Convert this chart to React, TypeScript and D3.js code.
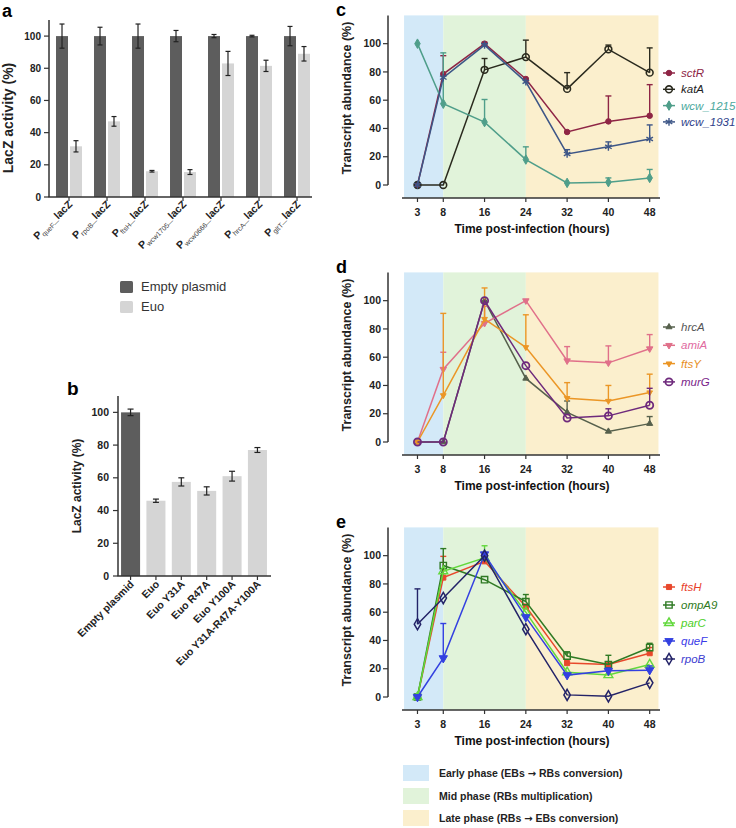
import React from 'react';
import * as d3 from 'd3';

// ---------- Panel a ----------
const promoters = ['queF', 'rpoB', 'ftsH', 'wcw1705', 'wcw0666', 'hrcA', 'gltT'];
const aSeries = ['Empty plasmid', 'Euo'];
const emptyPlasmidA = [100, 100, 100, 100, 100, 100, 100];
const emptyPlasmidAErr = [7.5, 5.5, 7.5, 3.5, 1, 0.5, 6];
const euoA = [31.5, 47, 16, 15.5, 83, 81.5, 89];
const euoAErr = [3.5, 3, 0.5, 1.5, 7.5, 3.5, 4.5];
const barTicks = [0, 20, 40, 60, 80, 100];

// ---------- Panel b ----------
const bConstructs = ['Empty plasmid', 'Euo', 'Euo Y31A', 'Euo R47A', 'Euo Y100A', 'Euo Y31A-R47A-Y100A'];
const bValues = [100, 46, 57.5, 52, 61, 77];
const bErr = [2, 1, 2.5, 2.5, 3, 1.5];

// ---------- Line panels ----------
const hours = [3, 8, 16, 24, 32, 40, 48];
const lineTicks = [0, 20, 40, 60, 80, 100];
const phaseNames = ['Early phase', 'Mid phase', 'Late phase'];
const phaseFrom = ['(EBs ', '(RBs multiplication)', '(RBs  '];
const phaseTo = [' RBs conversion)', '', ' EBs conversion)'];
const phaseStart = [0.4, 8, 24];
const phaseEnd = [8, 24, 49.7];

const cGenes = ['sctR', 'katA', 'wcw_1215', 'wcw_1931'];
const cValues = [
  [0, 78.5, 100, 75, 37.5, 45, 49],
  [0, 0, 81.5, 90.5, 68, 96, 79.5],
  [100, 57.5, 44.5, 18, 1.5, 2, 5],
  [0, 76, 99, 73, 22, 27, 32.5],
];
const cErrors = [
  [0, 13, 1, 0, 0, 18, 22],
  [0, 0, 8, 12, 11.5, 3, 17.5],
  [0, 36, 16, 9, 0, 3, 6],
  [0, 0, 1, 0, 3, 3.5, 10],
];

const dGenes = ['hrcA', 'amiA', 'ftsY', 'murG'];
const dValues = [
  [0, 0, 100, 45, 21, 7.5, 13],
  [0, 51.5, 84, 100, 57.5, 56, 66],
  [0, 33, 87, 67, 31, 29, 35],
  [0, 0, 100, 54, 17, 18.5, 26],
];
const dErrors = [
  [0, 0, 0, 0, 8, 0, 5],
  [0, 12, 12, 0, 10, 12, 10],
  [0, 58, 22, 23, 11, 11, 13],
  [0, 0, 0, 0, 0, 5, 12],
];

const eGenes = ['ftsH', 'ompA9', 'parC', 'queF', 'rpoB'];
const eValues = [
  [0, 84.5, 96, 64, 24, 23, 31],
  [0, 93, 83, 67.5, 29, 23, 35],
  [0, 89, 98.5, 60, 17.5, 15.5, 23],
  [0, 27.5, 101, 56.5, 15.5, 18.5, 19],
  [51.5, 70, 100, 48, 1.5, 0.5, 10],
];
const eErrors = [
  [0, 15, 0, 0, 0, 0, 4],
  [0, 12, 0, 5, 3, 6.5, 3],
  [0, 0, 8.5, 0, 0, 0, 0],
  [0, 24.5, 0, 0, 0, 2, 3],
  [25, 0, 0, 0, 0, 0, 0],
];

// ---------- Styles ----------
const FONT = "'Liberation Sans', Arial, sans-serif";
const AXIS = '#333';
const darkBar = '#5d5d5d';
const lightBar = '#d5d5d5';
const phaseColors = ['#d3e9f8', '#e1f3da', '#fbefcd'];

type Sty = { line: string; text: string; shape: string; filled: boolean; size: number; rot?: number; sw?: number };

const cStyles: Sty[] = [
  { line: '#8e2545', text: '#8e2545', shape: 'circle', filled: true, size: 24 },
  { line: '#2a2a1e', text: '#1e1e1e', shape: 'circle', filled: false, size: 36, sw: 1.6 },
  { line: '#4f9e8a', text: '#4aa79c', shape: 'diamond', filled: true, size: 26 },
  { line: '#3d5687', text: '#2e3e8a', shape: 'asterisk', filled: false, size: 40, sw: 1.4 },
];
const dStyles: Sty[] = [
  { line: '#56604c', text: '#555', shape: 'triangle', filled: true, size: 16 },
  { line: '#e0708a', text: '#e06aa0', shape: 'triangle', filled: true, size: 18, rot: 180 },
  { line: '#eb9626', text: '#e8901e', shape: 'triangle', filled: true, size: 14, rot: 180 },
  { line: '#6e2a7c', text: '#7a1e8a', shape: 'circle', filled: false, size: 40, sw: 1.8 },
];
const eStyles: Sty[] = [
  { line: '#e8482c', text: '#e8402a', shape: 'square', filled: true, size: 26 },
  { line: '#2f7a24', text: '#2e7a22', shape: 'square', filled: false, size: 40, sw: 1.4 },
  { line: '#62d83c', text: '#4ccf26', shape: 'triangle', filled: false, size: 34, sw: 1.4 },
  { line: '#3340e0', text: '#3a3ae8', shape: 'triangle', filled: true, size: 30, rot: 180 },
  { line: '#232368', text: '#3c3cd0', shape: 'diamond', filled: false, size: 36, sw: 1.5 },
];

const symbolTypes: Record<string, d3.SymbolType> = {
  circle: d3.symbolCircle,
  diamond: d3.symbolDiamond,
  asterisk: d3.symbolAsterisk,
  triangle: d3.symbolTriangle,
  square: d3.symbolSquare,
};

function Marker({ x, y, st }: { x: number; y: number; st: Sty }) {
  const d = d3.symbol().type(symbolTypes[st.shape]).size(st.size)() || '';
  return (
    <path
      d={d}
      transform={`translate(${x},${y}) rotate(${st.rot || 0})`}
      fill={st.filled ? st.line : 'none'}
      stroke={st.line}
      strokeWidth={st.sw || 1}
    />
  );
}

function PanelA() {
  const x = d3.scaleBand<string>().domain(promoters).range([50, 316]);
  const xs = d3.scaleBand<string>().domain(aSeries).range([0, x.step()]).paddingInner(0.143).paddingOuter(0.43);
  const y = d3.scaleLinear().domain([0, 110]).range([197, 20]);
  const vals = [emptyPlasmidA, euoA];
  const errs = [emptyPlasmidAErr, euoAErr];
  const cols = [darkBar, lightBar];
  return (
    <g fontFamily={FONT}>
      <text x={2} y={17} fontSize={18} fontWeight="bold">a</text>
      {promoters.map((p, i) =>
        aSeries.map((s, j) => {
          const bx = (x(p) as number) + (xs(s) as number);
          const v = vals[j][i];
          const e = errs[j][i];
          const cx = bx + xs.bandwidth() / 2;
          return (
            <g key={p + s}>
              <rect x={bx} width={xs.bandwidth()} y={y(v)} height={y(0) - y(v)} fill={cols[j]} />
              <line x1={cx} x2={cx} y1={y(v - e)} y2={y(v + e)} stroke="#222" strokeWidth={1.2} />
              <line x1={cx - 2.5} x2={cx + 2.5} y1={y(v + e)} y2={y(v + e)} stroke="#222" strokeWidth={1.2} />
              <line x1={cx - 2.5} x2={cx + 2.5} y1={y(v - e)} y2={y(v - e)} stroke="#222" strokeWidth={1.2} />
            </g>
          );
        })
      )}
      <line x1={49} x2={49} y1={y(110)} y2={y(0)} stroke={AXIS} strokeWidth={1.5} />
      <line x1={48.5} x2={312} y1={y(0)} y2={y(0)} stroke={AXIS} strokeWidth={1.5} />
      {barTicks.map((t) => (
        <g key={t}>
          <line x1={44} x2={49} y1={y(t)} y2={y(t)} stroke={AXIS} strokeWidth={1.2} />
          <text x={41} y={y(t)} dy="0.35em" textAnchor="end" fontSize={10} fontWeight="bold" fill="#222">{t}</text>
        </g>
      ))}
      {promoters.map((p) => {
        const cx = (x(p) as number) + x.step() / 2;
        return (
          <g key={p}>
            <line x1={cx} x2={cx} y1={y(0)} y2={y(0) + 4} stroke={AXIS} strokeWidth={1.2} />
            <text transform={`translate(${cx + 4},${y(0) + 8}) rotate(-45)`} textAnchor="end" fontSize={10.5} fontWeight="bold" fill="#222">
              <tspan>P</tspan>
              <tspan fontSize={7} fontWeight="normal" fill="#444" dy={2.5}>{p}</tspan>
              <tspan dy={-2.5}>_lacZ</tspan>
            </text>
          </g>
        );
      })}
      <text transform={`translate(13,118) rotate(-90)`} textAnchor="middle" fontSize={14} fontWeight="bold" fill="#222">LacZ activity (%)</text>
      {aSeries.map((s, j) => (
        <g key={s}>
          <rect x={120} y={281 + j * 20} width={13} height={12} fill={cols[j]} rx={1.5} />
          <text x={141} y={291 + j * 20} fontSize={13} fill="#333">{s}</text>
        </g>
      ))}
    </g>
  );
}

function PanelB() {
  const x = d3.scaleBand<string>().domain(bConstructs).range([118, 270]).paddingInner(0.25).paddingOuter(0.12);
  const y = d3.scaleLinear().domain([0, 110]).range([576, 396]);
  return (
    <g fontFamily={FONT}>
      <text x={67} y={395} fontSize={19} fontWeight="bold">b</text>
      {bConstructs.map((c, i) => {
        const bx = x(c) as number;
        const cx = bx + x.bandwidth() / 2;
        const v = bValues[i];
        const e = bErr[i];
        return (
          <g key={c}>
            <rect x={bx} width={x.bandwidth()} y={y(v)} height={y(0) - y(v)} fill={i === 0 ? darkBar : lightBar} />
            <line x1={cx} x2={cx} y1={y(v - e)} y2={y(v + e)} stroke="#222" strokeWidth={1.2} />
            <line x1={cx - 3} x2={cx + 3} y1={y(v + e)} y2={y(v + e)} stroke="#222" strokeWidth={1.2} />
            <line x1={cx - 3} x2={cx + 3} y1={y(v - e)} y2={y(v - e)} stroke="#222" strokeWidth={1.2} />
            <line x1={cx} x2={cx} y1={y(0)} y2={y(0) + 4} stroke={AXIS} strokeWidth={1.2} />
            <text transform={`translate(${cx + 4},${y(0) + 9}) rotate(-45)`} textAnchor="end" fontSize={10.5} fontWeight="bold" fill="#222">{c}</text>
          </g>
        );
      })}
      <line x1={118} x2={118} y1={y(110)} y2={y(0)} stroke={AXIS} strokeWidth={1.5} />
      <line x1={117.5} x2={271} y1={y(0)} y2={y(0)} stroke={AXIS} strokeWidth={1.5} />
      {barTicks.map((t) => (
        <g key={t}>
          <line x1={113} x2={118} y1={y(t)} y2={y(t)} stroke={AXIS} strokeWidth={1.2} />
          <text x={109} y={y(t)} dy="0.35em" textAnchor="end" fontSize={10.5} fontWeight="bold" fill="#222">{t}</text>
        </g>
      ))}
      <text transform={`translate(81,486) rotate(-90)`} textAnchor="middle" fontSize={12} fontWeight="bold" fill="#222">LacZ activity (%)</text>
    </g>
  );
}

function LinePanel(props: {
  top: number; letter: string; genes: string[]; values: number[][]; errors: number[][];
  styles: Sty[]; legendY: number; legendStep: number;
}) {
  const { top, letter, genes, values, errors, styles, legendY, legendStep } = props;
  const x = d3.scaleLinear().domain([0, 50]).range([402, 660]);
  const y = d3.scaleLinear().domain([0, 120]).range([top + 185, top + 15.4]);
  const axisY = top + 198;
  const line = d3.line<number>().x((_, i) => x(hours[i])).y((d) => y(d));
  return (
    <g fontFamily={FONT}>
      <text x={336} y={top + 16} fontSize={18} fontWeight="bold">{letter}</text>
      {phaseNames.map((p, i) => (
        <rect key={p} x={x(phaseStart[i])} width={x(phaseEnd[i]) - x(phaseStart[i])} y={y(120)} height={axisY - y(120)} fill={phaseColors[i]} />
      ))}
      <line x1={388} x2={388} y1={y(120)} y2={y(0)} stroke={AXIS} strokeWidth={1.5} />
      {lineTicks.map((t) => (
        <g key={t}>
          <line x1={383} x2={388} y1={y(t)} y2={y(t)} stroke={AXIS} strokeWidth={1.2} />
          <text x={381} y={y(t)} dy="0.35em" textAnchor="end" fontSize={10.5} fontWeight="bold" fill="#222">{t}</text>
        </g>
      ))}
      <line x1={x(0)} x2={x(50)} y1={axisY} y2={axisY} stroke={AXIS} strokeWidth={1.5} />
      {hours.map((h) => (
        <g key={h}>
          <line x1={x(h)} x2={x(h)} y1={axisY} y2={axisY + 4} stroke={AXIS} strokeWidth={1.2} />
          <text x={x(h)} y={axisY + 18} textAnchor="middle" fontSize={10.5} fontWeight="bold" fill="#222">{h}</text>
        </g>
      ))}
      <text x={532} y={axisY + 35} textAnchor="middle" fontSize={12} fontWeight="bold" fill="#111">Time post-infection (hours)</text>
      <text transform={`translate(351,${top + 98}) rotate(-90)`} textAnchor="middle" fontSize={12.5} fontWeight="bold" fill="#222">Transcript abundance (%)</text>
      {genes.map((g, k) => {
        const st = styles[k];
        return (
          <g key={g}>
            {values[k].map((v, i) =>
              errors[k][i] > 0 ? (
                <g key={i}>
                  <line x1={x(hours[i])} x2={x(hours[i])} y1={y(v)} y2={y(v + errors[k][i])} stroke={st.line} strokeWidth={1.4} />
                  <line x1={x(hours[i]) - 3} x2={x(hours[i]) + 3} y1={y(v + errors[k][i])} y2={y(v + errors[k][i])} stroke={st.line} strokeWidth={1.4} />
                </g>
              ) : null
            )}
            <path d={line(values[k]) || ''} fill="none" stroke={st.line} strokeWidth={1.5} />
            {values[k].map((v, i) => (
              <Marker key={i} x={x(hours[i])} y={y(v)} st={st} />
            ))}
          </g>
        );
      })}
      {genes.map((g, k) => {
        const st = styles[k];
        const ly = top + legendY + k * legendStep;
        return (
          <g key={g}>
            <line x1={663} x2={675} y1={ly} y2={ly} stroke={st.line} strokeWidth={1.5} />
            <Marker x={669} y={ly} st={st} />
            <text x={681} y={ly} dy="0.35em" fontSize={11.5} fontStyle="italic" fill={st.text}>{g}</text>
          </g>
        );
      })}
    </g>
  );
}

function PhaseLegend() {
  const tops = [765, 788, 810];
  return (
    <g fontFamily={FONT}>
      {phaseNames.map((p, i) => (
        <g key={p}>
          <rect x={403} y={tops[i]} width={26} height={16} fill={phaseColors[i]} />
          <text x={439} y={tops[i] + 8} dy="0.35em" fontSize={10.5} fontWeight="bold" fill="#222">
            {p + ' ' + phaseFrom[i]}
            {phaseTo[i] ? <tspan fontFamily="'DejaVu Sans', sans-serif" fontSize={10}>{'\u2192'}</tspan> : null}
            {phaseTo[i]}
          </text>
        </g>
      ))}
    </g>
  );
}

export default function App() {
  return (
    <svg width={736} height={828} style={{ position: 'absolute', left: 0, top: 0, background: '#fff' }}>
      <rect width={736} height={828} fill="#fff" />
      <PanelA />
      <PanelB />
      <LinePanel top={0} letter="c" genes={cGenes} values={cValues} errors={cErrors} styles={cStyles} legendY={73} legendStep={16.3} />
      <LinePanel top={257} letter="d" genes={dGenes} values={dValues} errors={dErrors} styles={dStyles} legendY={70} legendStep={18.3} />
      <LinePanel top={512} letter="e" genes={eGenes} values={eValues} errors={eErrors} styles={eStyles} legendY={75} legendStep={18} />
      <PhaseLegend />
    </svg>
  );
}
